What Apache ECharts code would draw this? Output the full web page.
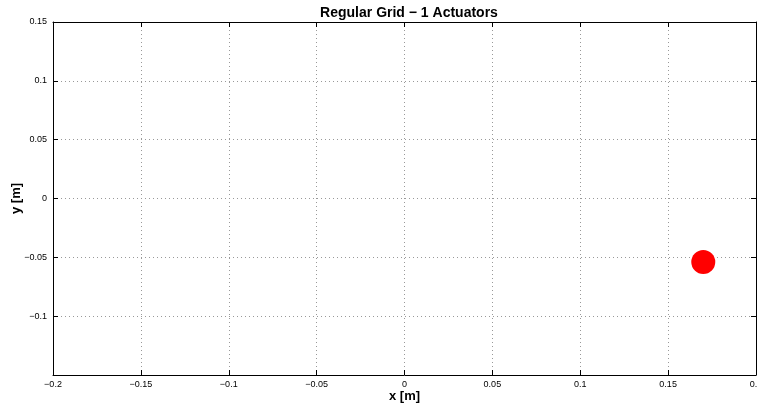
<!DOCTYPE html>
<html><head><meta charset="utf-8">
<script src="https://cdn.jsdelivr.net/npm/echarts@6/dist/echarts.min.js"></script>
<style>html,body{margin:0;padding:0;background:#fff}#c{width:757px;height:409px}</style>
</head><body><div id="c"></div>
<script>
const titleText = 'Regular Grid \u2212 1 Actuators';
const xName = 'x [m]';
const yName = 'y [m]';
const actuatorX = [0.17];
const actuatorY = [-0.054];
const xMin = -0.2, xMax = 0.2, xStep = 0.05;
const yMin = -0.15, yMax = 0.15, yStep = 0.05;

function fmt(v){
  const r = Math.round(v*1000)/1000;
  if (Math.abs(r) < 1e-9) return '0';
  const s = String(Math.abs(r));
  return (r < 0 ? '\u2212' : '') + s;
}
const font = 'Liberation Sans, Arial, sans-serif';
const chart = echarts.init(document.getElementById('c'));
const tickStyle = {show:true, inside:true, length:5, lineStyle:{color:'#000', width:1}};
chart.setOption({
  animation:false,
  title:{text:titleText, left:404, top:1, textAlign:'center',
    textStyle:{fontFamily:font, fontSize:14, fontWeight:'bold', color:'#000'}},
  grid:{left:53, right:1, top:22, bottom:34, containLabel:false, outerBoundsMode:'none'},
  xAxis:[{
    type:'value', min:xMin, max:xMax, interval:xStep,
    name:xName, nameLocation:'middle', nameGap:15, nameMoveOverlap:false,
    nameTextStyle:{fontFamily:font, fontSize:13, fontWeight:'bold', color:'#000'},
    axisLine:{show:true, onZero:false, lineStyle:{color:'#000', width:1}},
    axisTick:tickStyle,
    axisLabel:{fontFamily:font, fontSize:9, color:'#000', margin:5, formatter:fmt, hideOverlap:false},
    splitLine:{show:true, lineStyle:{color:'#999', type:[1,3], width:1}}
  },{
    type:'value', position:'top', min:xMin, max:xMax, interval:xStep,
    axisLine:{show:true, onZero:false, lineStyle:{color:'#000', width:1}},
    axisTick:tickStyle, axisLabel:{show:false}, splitLine:{show:false}
  }],
  yAxis:[{
    type:'value', min:yMin, max:yMax, interval:yStep,
    name:yName, nameLocation:'middle', nameGap:30, nameRotate:90, nameMoveOverlap:false,
    nameTextStyle:{fontFamily:font, fontSize:13, fontWeight:'bold', color:'#000'},
    axisLine:{show:true, onZero:false, lineStyle:{color:'#000', width:1}},
    axisTick:tickStyle,
    axisLabel:{fontFamily:font, fontSize:9, color:'#000', margin:6,
      formatter:function(v){ return Math.abs(v - yMin) < 1e-9 ? '' : fmt(v); }},
    splitLine:{show:true, lineStyle:{color:'#999', type:[1,3], width:1}}
  },{
    type:'value', position:'right', min:yMin, max:yMax, interval:yStep,
    axisLine:{show:true, onZero:false, lineStyle:{color:'#000', width:1}},
    axisTick:tickStyle, axisLabel:{show:false}, splitLine:{show:false}
  }],
  series:[{
    type:'scatter', symbol:'circle', symbolSize:24,
    itemStyle:{color:'#ff0000', opacity:1},
    data: actuatorX.map((x,i)=>[x, actuatorY[i]])
  }]
});
</script></body></html>
